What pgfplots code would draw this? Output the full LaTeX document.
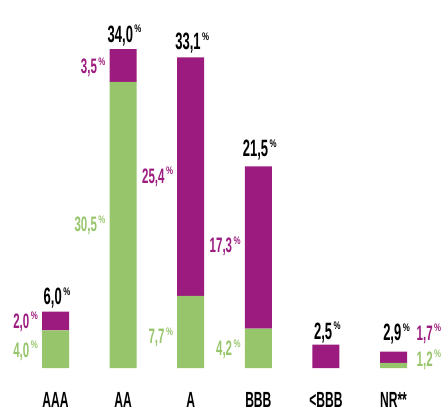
\documentclass[border=0pt]{standalone}
\usepackage{pgfplots}
\usepackage{pgfplotstable}
\pgfplotsset{compat=1.18}
\usepackage{fontspec}
\setmainfont{Liberation Sans}[FakeStretch=0.55]
\newfontfamily\pctfont{Liberation Sans}[FakeStretch=0.72]
\definecolor{cpurple}{HTML}{9B1B7E}
\definecolor{cgreen}{HTML}{97C56B}
\newcommand\pct{\kern1.5pt\raisebox{0.4em}{\fontsize{11}{11}\pctfont\bfseries\%}}
\newcommand\tot{\fontsize{23.7}{24}\selectfont\bfseries}
\newcommand\seg{\fontsize{21}{22}\selectfont\bfseries}
\newcommand\cat{\fontsize{22}{22}\selectfont\bfseries}
\pgfplotstableread{
x green purple
0 4.0 2.0
1 30.5 3.5
2 7.7 25.4
3 4.2 17.3
4 0 2.5
5 0.55 1.2
}\data
\begin{document}
\begin{tikzpicture}
\begin{axis}[
  scale only axis, width=442bp, height=412bp,
  xmin=-0.821, xmax=5.717, ymin=-4.69, ymax=39.23,
  hide axis, clip=false,
  ybar stacked, bar width=27bp,
]
\addplot[fill=cgreen, draw=none] table[x=x, y=green] {\data};
\addplot[fill=cpurple, draw=none] table[x=x, y=purple] {\data};
% totals
\node[anchor=base, text=black, inner sep=0pt, xshift=1.5bp] at (axis cs:0,6.72) {\tot 6,0\pct};
\node[anchor=base, text=black, inner sep=0pt, xshift=1.5bp] at (axis cs:1,34.75) {\tot 34,0\pct};
\node[anchor=base, text=black, inner sep=0pt, xshift=1.5bp] at (axis cs:2,33.9) {\tot 33,1\pct};
\node[anchor=base, text=black, inner sep=0pt, xshift=1.5bp] at (axis cs:3,22.5) {\tot 21,5\pct};
\node[anchor=base, text=black, inner sep=0pt, xshift=1.5bp] at (axis cs:4,3.09) {\tot 2,5\pct};
\node[anchor=base, text=black, inner sep=0pt, xshift=3bp] at (axis cs:5,2.88) {\tot 2,9\pct};
% segments left
\node[anchor=base east, text=cpurple, inner sep=0pt, xshift=-17.5bp] at (axis cs:0,4.26) {\seg 2,0\pct};
\node[anchor=base east, text=cgreen, inner sep=0pt, xshift=-17.5bp] at (axis cs:0,1.17) {\seg 4,0\pct};
\node[anchor=base east, text=cpurple, inner sep=0pt, xshift=-17.5bp] at (axis cs:1,31.4) {\seg 3,5\pct};
\node[anchor=base east, text=cgreen, inner sep=0pt, xshift=-17.5bp] at (axis cs:1,14.5) {\seg 30,5\pct};
\node[anchor=base east, text=cpurple, inner sep=0pt, xshift=-17.5bp] at (axis cs:2,19.7) {\seg 25,4\pct};
\node[anchor=base east, text=cgreen, inner sep=0pt, xshift=-17.5bp] at (axis cs:2,2.56) {\seg 7,7\pct};
\node[anchor=base east, text=cpurple, inner sep=0pt, xshift=-17.5bp] at (axis cs:3,12.26) {\seg 17,3\pct};
\node[anchor=base east, text=cgreen, inner sep=0pt, xshift=-17.5bp] at (axis cs:3,1.28) {\seg 4,2\pct};
% NR right
\node[anchor=base west, text=cpurple, inner sep=0pt, xshift=23bp] at (axis cs:5,2.98) {\seg 1,7\pct};
\node[anchor=base west, text=cgreen, inner sep=0pt, xshift=23bp] at (axis cs:5,0.21) {\seg 1,2\pct};
% categories
\node[anchor=base, inner sep=0pt] at (axis cs:0,-4.26) {\cat AAA};
\node[anchor=base, inner sep=0pt] at (axis cs:1,-4.26) {\cat AA};
\node[anchor=base, inner sep=0pt] at (axis cs:2,-4.26) {\cat A};
\node[anchor=base, inner sep=0pt] at (axis cs:3,-4.26) {\cat BBB};
\node[anchor=base, inner sep=0pt] at (axis cs:4,-4.26) {\cat <BBB};
\node[anchor=base, inner sep=0pt] at (axis cs:5,-4.26) {\cat NR**};
\end{axis}
\pgfresetboundingbox
\useasboundingbox (0,0) rectangle (442bp,412bp);
\end{tikzpicture}
\end{document}
